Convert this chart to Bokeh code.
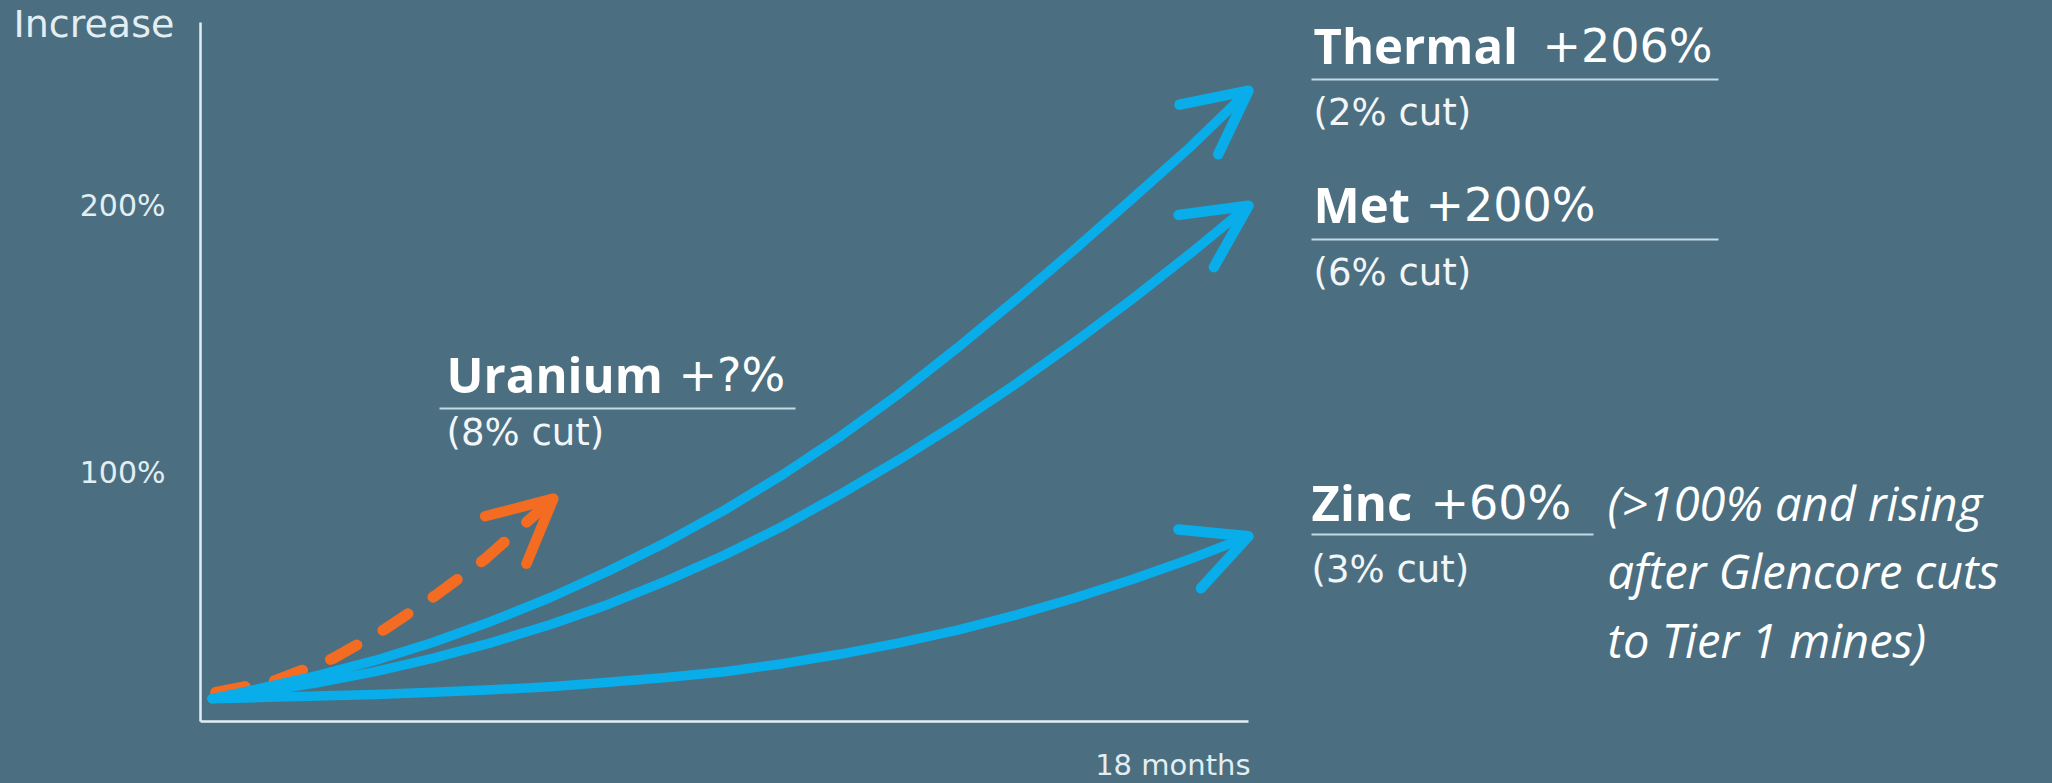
import math
from bokeh.plotting import figure
from bokeh.models import Range1d, FixedTicker, Label, Arrow, OpenHead
from bokeh.embed import file_html
from bokeh.resources import INLINE

# ---------------- data ----------------
months = [0.2, 1, 2, 3, 4, 5, 6, 7, 8, 9, 10, 11, 12, 13, 14, 15, 16, 17, 18]
thermal = [15.3, 19.0, 23.9, 29.6, 36.4, 44.3, 53.1, 63.0, 73.9, 85.9, 99.2,
           113.7, 129.5, 146.7, 164.7, 183.3, 202.5, 221.9, 243.0]
met = [15.3, 17.7, 21.2, 25.4, 30.5, 36.3, 43.0, 50.6, 59.4, 69.1, 79.9,
       92.0, 104.8, 118.5, 133.1, 148.6, 164.9, 182.0, 199.9]
zinc = [15.3, 15.7, 16.3, 16.9, 17.7, 18.6, 19.8, 21.4, 23.2, 25.4, 28.4,
        32.0, 36.2, 41.0, 46.6, 52.9, 59.9, 67.6, 76.1]
uranium_months = [0.26, 1.29, 2.27, 3.18, 4.04, 4.90, 5.44, 6.06]
uranium = [17.6, 22.1, 30.3, 41.5, 54.0, 67.8, 78.3, 90.2]

y_ticks = [100, 200]
y_tick_labels = ["100%", "200%"]
x_end = 18
x_end_label = "18 months"
y_title = "Increase"

names = ["Thermal", "Met", "Uranium", "Zinc"]
values = ["+206%", "+200%", "+?%", "+60%"]
cuts = ["(2% cut)", "(6% cut)", "(8% cut)", "(3% cut)"]
note_lines = ["(>100% and rising", "after Glencore cuts", "to Tier 1 mines)"]

# ---------------- style ----------------
BG = "#4b6f80"
BLUE = "#08adea"
ORANGE = "#f36c21"
AXIS = "#e2eef3"
TXT = "#ffffff"
SUB = "#f2f6f8"
UL = "#c3dbe5"
SANS = "DejaVu Sans"
HEAD = "Open Sans"

W, H = 2052, 783
# pixel calibration (page pixels, figure drawn at the page origin)
X0, XE = 200, 1248          # x axis from 0 to 18 months
Y100, Y200 = 472, 205       # y positions of 100% and 200%
Y_AXIS, Y_TOP = 721, 22     # x axis line / top of y axis line
PX_M = (XE - X0) / x_end
PX_P = (Y100 - Y200) / 100.0
BASE_SHIFT = 0.36           # label y is placed this many em above the wanted baseline


def dx(X):
    return (X - X0) / PX_M


def dy(Y):
    return 100 + (Y100 - Y) / PX_P


p = figure(width=W, height=H,
           x_range=Range1d(dx(0), dx(W)),
           y_range=Range1d(dy(H), dy(0)),
           output_backend="svg", toolbar_location=None,
           min_border=0,
           background_fill_color=BG, border_fill_color=BG,
           outline_line_color=None)
p.grid.visible = False

# axes, pinned inside the frame
for ax in (p.xaxis, p.yaxis):
    ax.axis_line_color = AXIS
    ax.axis_line_width = 2.5
    ax.major_tick_line_color = None
    ax.minor_tick_line_color = None
    ax.major_label_text_font = SANS
    ax.major_label_text_color = AXIS
p.xaxis.fixed_location = dy(Y_AXIS)
p.xaxis.bounds = (0, x_end)
p.xaxis.ticker = FixedTicker(ticks=[])
p.yaxis.fixed_location = 0
p.yaxis.bounds = (dy(Y_AXIS), dy(Y_TOP))
p.yaxis.ticker = FixedTicker(ticks=y_ticks)
p.yaxis.major_label_overrides = dict(zip(y_ticks, y_tick_labels))
p.yaxis.major_label_standoff = 29
p.yaxis.major_label_text_font_size = "30px"

# curves
p.line(uranium_months, uranium, line_color=ORANGE, line_width=11,
       line_dash="30 30", line_cap="round", line_join="round")
for ser in (zinc, met, thermal):
    p.line(months, ser, line_color=BLUE, line_width=9.5,
           line_cap="round", line_join="round")

# arrow heads (direction of each head, degrees above horizontal)
head_angles = [38, 34, 21, 41]
for (xs, ys, col), ang in zip(((months, thermal, BLUE), (months, met, BLUE),
                               (months, zinc, BLUE), (uranium_months, uranium, ORANGE)),
                              head_angles):
    a = math.radians(ang)
    p.add_layout(Arrow(end=OpenHead(size=63, line_width=10.5, line_color=col,
                                    line_cap="round", line_join="round"),
                       x_start=xs[-1] - 10 * math.cos(a) / PX_M,
                       y_start=ys[-1] - 10 * math.sin(a) / PX_P,
                       x_end=xs[-1], y_end=ys[-1], line_alpha=0))


def lab(text, X, base, size, style="normal", align="left", color=TXT, font=SANS):
    p.add_layout(Label(x=dx(X), y=dy(base - BASE_SHIFT * size), text=text,
                       text_font=font, text_font_size=f"{size}px",
                       text_font_style=style, text_align=align,
                       text_baseline="alphabetic", text_color=color))


# axis texts
lab(y_title, 13, 37, 38, color=AXIS)
lab(x_end_label, 1250, 775, 29, align="right", color=AXIS)

# series annotations: name_x, baseline, value_x, underline x0, x1, y, cut baseline
layout = [
    (1313, 62, 1542, 1311, 1718, 79, 125),
    (1313, 221, 1425, 1311, 1718, 239, 285),
    (446, 391, 678, 439, 795, 408, 445),
    (1311, 519, 1430, 1311, 1593, 534, 582),
]
ux0, ux1, uy = [], [], []
for name, val, cut, (nx, nb, vx, u0, u1, uyy, cb) in zip(names, values, cuts, layout):
    lab(name, nx, nb, 49, style="bold", font=HEAD)
    lab(val, vx, nb, 46)
    lab(cut, nx, cb, 37, color=SUB)
    ux0.append(dx(u0)); ux1.append(dx(u1)); uy.append(dy(uyy))
p.segment(x0=ux0, y0=uy, x1=ux1, y1=uy, line_color=UL, line_width=2)

for i, line in enumerate(note_lines):
    lab(line, 1607, 519 + i * 68.5, 47, style="italic", font="Open Sans")

html = file_html(p, INLINE)
html = html.replace("</head>",
                    "<style>html,body{background:%s;overflow:hidden;}</style></head>" % BG, 1)
open("out.html", "w").write(html)
